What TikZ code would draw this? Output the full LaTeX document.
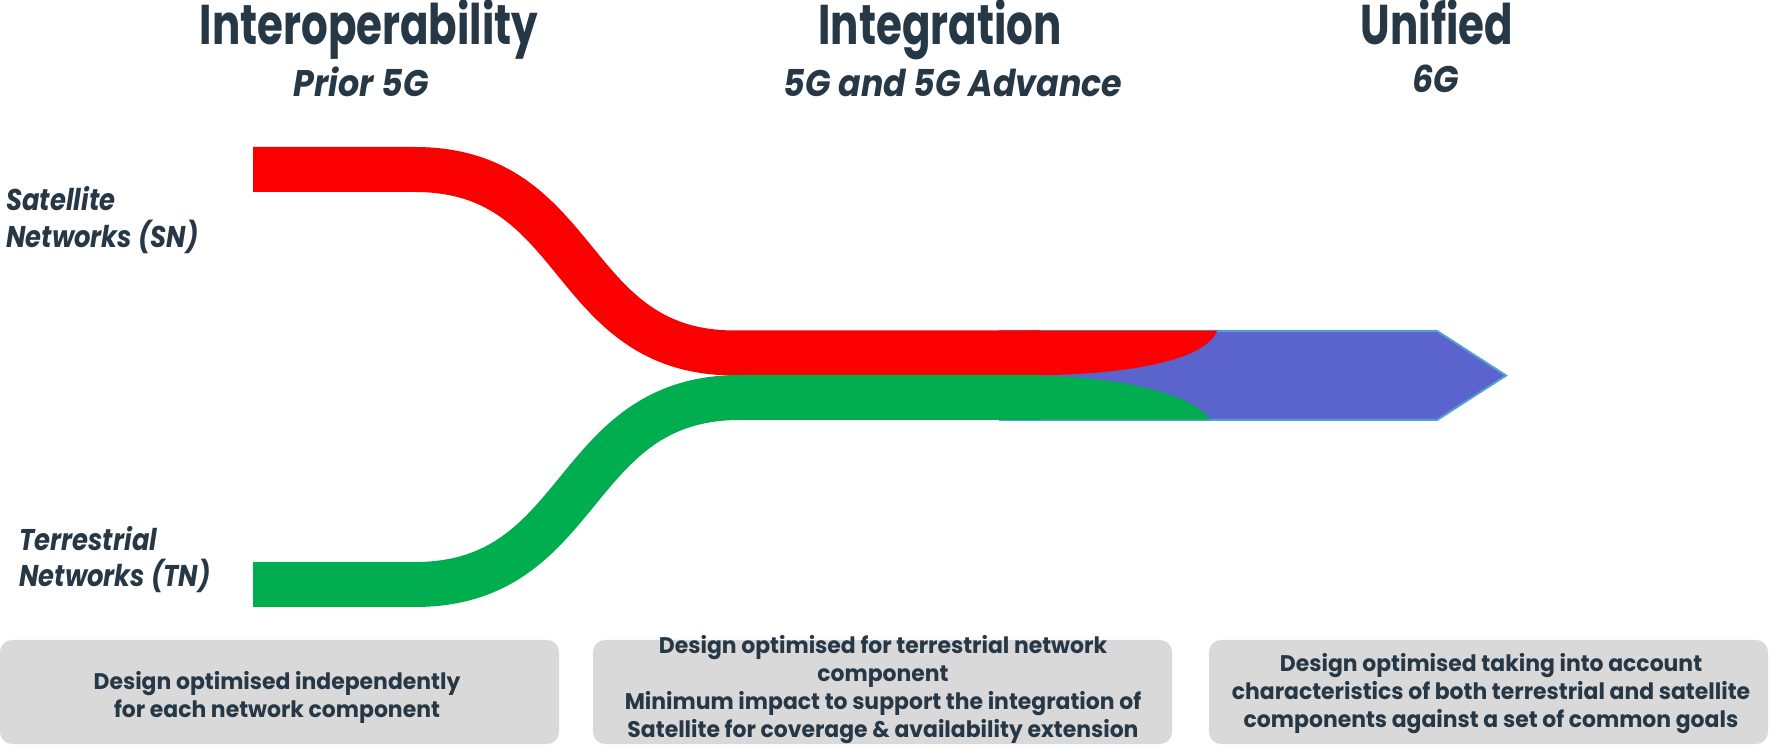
\documentclass[tikz,border=0pt]{standalone}
\usepackage{fontspec}
\setmainfont{Poppins}
\newfontfamily\headfont{Poppins}[FakeStretch=0.75]
\newfontfamily\erafont{Poppins}[FakeStretch=0.9]
\newfontfamily\labelfont{Poppins}[FakeStretch=0.86]
\newfontfamily\notefont{Poppins}[FakeStretch=0.97]
\definecolor{ink}{RGB}{38,55,70}
\definecolor{satred}{RGB}{250,0,0}
\definecolor{terrgreen}{RGB}{0,173,79}
\definecolor{unifiedblue}{RGB}{91,99,204}
\definecolor{unifiededge}{RGB}{80,160,210}
\definecolor{panelgrey}{RGB}{217,217,217}
\begin{document}
\begin{tikzpicture}[x=0.5pt,y=-0.5pt,
  phase/.style={font=\headfont\fontsize{28}{32}\selectfont\bfseries, text=ink, inner sep=0pt, anchor=base},
  era/.style={font=\erafont\fontsize{18.5}{22}\selectfont\bfseries\itshape, text=ink, inner sep=0pt, anchor=base},
  side/.style={font=\labelfont\fontsize{15}{18}\selectfont\bfseries\itshape, text=ink, inner sep=0pt, anchor=base west},
  panel/.style={fill=panelgrey, rounded corners=6pt, inner sep=0pt},
  paneltext/.style={font=\notefont\fontsize{11.3}{14}\selectfont\bfseries, text=ink, align=center, inner sep=0pt},
  band/.style={line width=22.5pt}
]
\useasboundingbox (0,0) rectangle (1771,747);
\fill[white] (0,0) rectangle (1771,747);

% phase headings
\node[phase] (h1) at (369,45) {Interoperability};
\node[phase] (h2) at (940,45) {Integration};
\node[phase] (h3) at (1437,45) {Unified};
\node[era] (e1) at (361,97) {Prior 5G};
\node[era] (e2) at (953,97) {5G and 5G Advance};
\node[era] (e3) at (1436,93) {6G};

% network labels
\node[side] (sn1) at (6,211) {Satellite};
\node[side] (sn2) at (6,248) {Networks (SN)};
\node[side] (tn1) at (19,551) {Terrestrial};
\node[side] (tn2) at (19,587) {Networks (TN)};

% unified arrow
\fill[unifiedblue, draw=unifiededge, line width=1pt]
  (1000,331) -- (1437,331) -- (1506,375.5) -- (1437,420) -- (1000,420) -- cycle;

% satellite band
\draw[band, satred] (253,169.5) -- (415,169.5)
  .. controls (585,169.5) and (565,353) .. (735,353) -- (1040,353);
\fill[satred] (1030,330.75) -- (1217,330.75)
  .. controls (1205,362) and (1120,375.25) .. (1030,375.25) -- cycle;

% terrestrial band
\draw[band, terrgreen] (253,584.5) -- (415,584.5)
  .. controls (587,584.5) and (568,397.5) .. (740,397.5) -- (1040,397.5);
\fill[terrgreen] (1030,375.25) .. controls (1120,376) and (1195,395) .. (1210,419.75)
  -- (1030,419.75) -- cycle;

% design notes
\node[panel, minimum width=279.5pt, minimum height=52pt] (p1) at (279.5,692) {};
\node[panel, minimum width=289.5pt, minimum height=52pt] (p2) at (882.5,692) {};
\node[panel, minimum width=279.5pt, minimum height=52pt] (p3) at (1488.5,692) {};
\node[paneltext] (n1) at (277,697) {Design optimised independently\\for each network component};
\node[paneltext] (n2) at (883,690) {Design optimised for terrestrial network\\component\\Minimum impact to support the integration of\\Satellite for coverage \& availability extension};
\node[paneltext] (n3) at (1491,694) {Design optimised taking into account\\characteristics of both terrestrial and satellite\\components against a set of common goals};
\end{tikzpicture}
\end{document}
